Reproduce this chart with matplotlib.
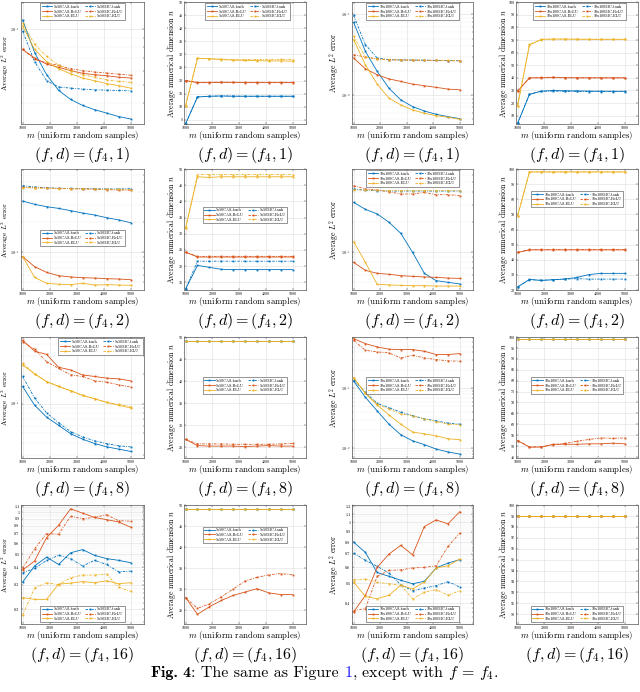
import matplotlib
matplotlib.use('Agg')
import matplotlib.pyplot as plt
from matplotlib.ticker import FixedLocator, FixedFormatter, NullFormatter, LogLocator, FuncFormatter
import numpy as np

plt.rcParams['font.family'] = 'serif'
plt.rcParams['font.serif'] = ['cmr10', 'DejaVu Serif']
plt.rcParams['mathtext.fontset'] = 'cm'
plt.rcParams['axes.unicode_minus'] = False
plt.rcParams['axes.formatter.use_mathtext'] = True

# ---------------- data ----------------
m = [1000, 1444, 1889, 2333, 2778, 3222, 3667, 4111, 4556, 5000]
series = ['CAS-tanh', 'MC-tanh', 'CAS-ReLU', 'MC-ReLU', 'CAS-ELU', 'MC-ELU']

# row 1: (f4, 1)
err_5x50_d1 = {
    'CAS-tanh': [0.112, 0.075, 0.057, 0.047, 0.042, 0.039, 0.037, 0.0355, 0.034, 0.033],
    'MC-tanh':  [0.0975, 0.067, 0.053, 0.049, 0.0483, 0.0477, 0.0473, 0.0471, 0.0469, 0.0467],
    'CAS-ReLU': [0.078, 0.070, 0.065, 0.0624, 0.060, 0.058, 0.057, 0.0563, 0.0553, 0.0547],
    'MC-ReLU':  [0.078, 0.069, 0.066, 0.064, 0.0614, 0.060, 0.0589, 0.0582, 0.0574, 0.0567],
    'CAS-ELU':  [0.104, 0.078, 0.067, 0.0614, 0.0577, 0.0547, 0.0529, 0.0511, 0.0498, 0.0483],
    'MC-ELU':   [0.108, 0.083, 0.0716, 0.064, 0.060, 0.057, 0.0553, 0.0536, 0.0525, 0.0519],
}
dim_5x50_d1 = {
    'CAS-tanh': [3.5, 13.7, 14.0, 14.1, 14.0, 14.0, 14.0, 14.0, 14.0, 14.0],
    'MC-tanh':  [3.5, 13.8, 14.0, 14.1, 14.1, 14.0, 14.0, 14.0, 14.0, 14.0],
    'CAS-ReLU': [20.0, 19.2, 19.2, 19.3, 19.3, 19.2, 19.2, 19.2, 19.2, 19.2],
    'MC-ReLU':  [20.0, 19.3, 19.3, 19.4, 19.3, 19.3, 19.3, 19.3, 19.3, 19.3],
    'CAS-ELU':  [10.4, 28.5, 28.3, 28.0, 27.8, 27.7, 27.6, 27.5, 27.5, 27.4],
    'MC-ELU':   [10.4, 28.5, 28.4, 28.2, 28.0, 28.0, 28.0, 28.0, 28.1, 28.0],
}
err_10x100_d1 = {
    'CAS-tanh': [0.080, 0.0348, 0.0196, 0.0121, 0.00866, 0.00715, 0.0063, 0.00573, 0.00536, 0.00506],
    'MC-tanh':  [0.0972, 0.0422, 0.0287, 0.0274, 0.0272, 0.0271, 0.0270, 0.0268, 0.0267, 0.0266],
    'CAS-ReLU': [0.0287, 0.0211, 0.0178, 0.0158, 0.0147, 0.0136, 0.0130, 0.0124, 0.0118, 0.01155],
    'MC-ReLU':  [0.0316, 0.0296, 0.0279, 0.0274, 0.0271, 0.0271, 0.0268, 0.0268, 0.0266, 0.0265],
    'CAS-ELU':  [0.0487, 0.0237, 0.0136, 0.0091, 0.0075, 0.0065, 0.0059, 0.00552, 0.00526, 0.00497],
    'MC-ELU':   [0.0536, 0.0296, 0.0279, 0.0274, 0.0273, 0.0271, 0.0270, 0.0269, 0.0268, 0.0267],
}
dim_10x100_d1 = {
    'CAS-tanh': [4, 27, 29.5, 30, 29.8, 29.7, 29.5, 29.5, 29.4, 29.4],
    'MC-tanh':  [4, 27, 29.4, 29.5, 29.3, 29.3, 29.2, 29.2, 29.2, 29.2],
    'CAS-ReLU': [29.5, 40, 40, 40.3, 40.1, 40, 40, 40, 40, 40],
    'MC-ReLU':  [29.5, 40, 40.3, 40.5, 40.2, 40.1, 40.1, 40, 40, 40],
    'CAS-ELU':  [18, 66, 70.5, 70.7, 70.7, 70.6, 70.5, 70.5, 70.5, 70.5],
    'MC-ELU':   [18, 66.5, 70.3, 70.6, 70.6, 70.5, 70.5, 70.4, 70.4, 70.4],
}
# row 2: (f4, 2)
err_5x50_d2 = {
    'CAS-tanh': [0.326, 0.302, 0.286, 0.275, 0.261, 0.247, 0.236, 0.222, 0.211, 0.198],
    'MC-tanh':  [0.464, 0.450, 0.443, 0.436, 0.436, 0.433, 0.433, 0.430, 0.430, 0.433],
    'CAS-ReLU': [0.0905, 0.0719, 0.063, 0.0584, 0.0567, 0.0558, 0.0553, 0.0545, 0.0541, 0.0533],
    'MC-ReLU':  [0.447, 0.443, 0.440, 0.436, 0.433, 0.430, 0.427, 0.423, 0.420, 0.418],
    'CAS-ELU':  [0.0905, 0.0562, 0.049, 0.048, 0.0475, 0.049, 0.0471, 0.0475, 0.0471, 0.0468],
    'MC-ELU':   [0.443, 0.440, 0.436, 0.433, 0.433, 0.430, 0.430, 0.427, 0.427, 0.423],
}
dim_5x50_d2 = {
    'CAS-tanh': [12.9, 20.2, 19.6, 19.0, 18.9, 18.9, 18.9, 18.9, 18.9, 18.9],
    'MC-tanh':  [12.9, 21.5, 21.5, 21.5, 21.5, 21.5, 21.5, 21.5, 21.5, 21.5],
    'CAS-ReLU': [24.3, 22.8, 22.8, 22.8, 22.8, 22.8, 22.8, 22.8, 22.8, 22.8],
    'MC-ReLU':  [24.3, 23.0, 23.0, 23.0, 23.0, 23.0, 23.0, 23.0, 23.0, 23.0],
    'CAS-ELU':  [31.7, 47.6, 47.4, 47.6, 47.6, 47.6, 47.6, 47.6, 47.6, 47.6],
    'MC-ELU':   [31.7, 48.3, 48.3, 48.3, 48.3, 48.3, 48.3, 48.3, 48.3, 48.3],
}
err_10x100_d2 = {
    'CAS-tanh': [0.316, 0.269, 0.242, 0.200, 0.155, 0.100, 0.0617, 0.0521, 0.0501, 0.0483],
    'MC-tanh':  [0.430, 0.417, 0.414, 0.410, 0.410, 0.410, 0.410, 0.410, 0.410, 0.410],
    'CAS-ReLU': [0.0794, 0.066, 0.0617, 0.0603, 0.0585, 0.0575, 0.0567, 0.0562, 0.0553, 0.0549],
    'MC-ReLU':  [0.464, 0.430, 0.420, 0.404, 0.383, 0.383, 0.397, 0.377, 0.377, 0.369],
    'CAS-ELU':  [0.128, 0.0794, 0.0479, 0.0472, 0.0468, 0.0464, 0.0464, 0.046, 0.046, 0.046],
    'MC-ELU':   [0.420, 0.420, 0.417, 0.414, 0.414, 0.414, 0.414, 0.414, 0.414, 0.414],
}
dim_10x100_d2 = {
    'CAS-tanh': [22, 27, 26.3, 26.8, 27.3, 28.3, 30.2, 31, 31, 31],
    'MC-tanh':  [22, 26.8, 26.5, 26.8, 27.2, 27.5, 27.2, 27.2, 27.2, 27.2],
    'CAS-ReLU': [44.8, 46.5, 46.5, 46.5, 46.5, 46.5, 46.5, 46.5, 46.5, 46.5],
    'MC-ReLU':  [44.8, 46.8, 46.8, 46.8, 46.8, 46.8, 46.8, 46.8, 46.8, 46.8],
    'CAS-ELU':  [69, 98, 98, 98, 98, 98, 98, 98, 98, 98],
    'MC-ELU':   [69, 98.2, 98.2, 98.2, 98.2, 98.2, 98.2, 98.2, 98.2, 98.2],
}
# row 3: (f4, 8)
err_5x50_d8 = {
    'CAS-tanh': [0.149, 0.0963, 0.073, 0.0603, 0.0497, 0.0437, 0.0395, 0.0366, 0.0347, 0.0329],
    'MC-tanh':  [0.188, 0.114, 0.0806, 0.064, 0.0521, 0.0461, 0.042, 0.0395, 0.0374, 0.0366],
    'CAS-ReLU': [0.436, 0.339, 0.314, 0.233, 0.219, 0.195, 0.188, 0.181, 0.178, 0.170],
    'MC-ReLU':  [0.420, 0.355, 0.265, 0.227, 0.195, 0.188, 0.170, 0.165, 0.155, 0.147],
    'CAS-ELU':  [0.245, 0.200, 0.167, 0.149, 0.135, 0.121, 0.112, 0.103, 0.0963, 0.0905],
    'MC-ELU':   [0.257, 0.200, 0.167, 0.149, 0.135, 0.121, 0.112, 0.103, 0.098, 0.0933],
}
dim_5x50_d8 = {
    'CAS-tanh': [49, 49, 49, 49, 49, 49, 49, 49, 49, 49],
    'MC-tanh':  [49, 49, 49, 49, 49, 49, 49, 49, 49, 49],
    'CAS-ReLU': [26.8, 25.4, 25.3, 25.3, 25.3, 25.2, 25.3, 25.4, 25.3, 25.3],
    'MC-ReLU':  [26.8, 25.8, 25.8, 25.8, 25.7, 25.7, 25.7, 25.7, 25.8, 25.9],
    'CAS-ELU':  [49, 49, 49, 49, 49, 49, 49, 49, 49, 49],
    'MC-ELU':   [49, 49, 49, 49, 49, 49, 49, 49, 49, 49],
}
err_10x100_d8 = {
    'CAS-tanh': [0.133, 0.0708, 0.0419, 0.0251, 0.0167, 0.0132, 0.0114, 0.0096, 0.0086, 0.0079],
    'MC-tanh':  [0.138, 0.0858, 0.0562, 0.0476, 0.0398, 0.035, 0.0308, 0.0286, 0.0261, 0.0251],
    'CAS-ReLU': [0.681, 0.562, 0.495, 0.453, 0.447, 0.447, 0.419, 0.369, 0.369, 0.383],
    'MC-ReLU':  [0.639, 0.435, 0.408, 0.393, 0.324, 0.359, 0.324, 0.304, 0.289, 0.285],
    'CAS-ELU':  [0.151, 0.0826, 0.0528, 0.0359, 0.0251, 0.0185, 0.0173, 0.016, 0.0143, 0.0138],
    'MC-ELU':   [0.151, 0.0826, 0.054, 0.0453, 0.0374, 0.0346, 0.0308, 0.0278, 0.0251, 0.0245],
}
dim_10x100_d8 = {
    'CAS-tanh': [99, 99, 99, 99, 99, 99, 99, 99, 99, 99],
    'MC-tanh':  [99, 99, 99, 99, 99, 99, 99, 99, 99, 99],
    'CAS-ReLU': [52.5, 49.5, 49.5, 50.8, 50.8, 50.8, 51, 51, 51.3, 51],
    'MC-ReLU':  [52.5, 49.5, 49.7, 50.6, 51.2, 52.2, 53, 53.7, 53.5, 53.7],
    'CAS-ELU':  [99, 99, 99, 99, 99, 99, 99, 99, 99, 99],
    'MC-ELU':   [99, 99, 99, 99, 99, 99, 99, 99, 99, 99],
}
# row 4: (f4, 16)
err_5x50_d16 = {
    'CAS-tanh': [0.313, 0.41, 0.475, 0.42, 0.51, 0.538, 0.489, 0.463, 0.45, 0.433],
    'MC-tanh':  [0.366, 0.393, 0.45, 0.489, 0.463, 0.41, 0.45, 0.42, 0.372, 0.376],
    'CAS-ReLU': [0.383, 0.445, 0.657, 0.807, 1.06, 0.987, 0.92, 0.885, 0.853, 0.782],
    'MC-ReLU':  [0.393, 0.545, 0.702, 0.695, 0.935, 0.9, 0.92, 0.96, 0.871, 0.863],
    'CAS-ELU':  [0.242, 0.235, 0.235, 0.303, 0.308, 0.316, 0.31, 0.32, 0.305, 0.31],
    'MC-ELU':   [0.181, 0.284, 0.31, 0.3, 0.337, 0.352, 0.352, 0.358, 0.288, 0.269],
}
dim_5x50_d16 = {
    'CAS-tanh': [49, 49, 49, 49, 49, 49, 49, 49, 49, 49],
    'MC-tanh':  [49, 49, 49, 49, 49, 49, 49, 49, 49, 49],
    'CAS-ReLU': [28.0, 24.0, 25.8, 27.3, 28.5, 29.3, 30.1, 29.1, 28.7, 28.7],
    'MC-ReLU':  [28.0, 25.4, 26.5, 28.2, 30.0, 31.9, 32.8, 33.4, 33.7, 33.4],
    'CAS-ELU':  [49, 49, 49, 49, 49, 49, 49, 49, 49, 49],
    'MC-ELU':   [49, 49, 49, 49, 49, 49, 49, 49, 49, 49],
}
err_10x100_d16 = {
    'CAS-tanh': [0.80, 0.711, 0.566, 0.542, 0.518, 0.498, 0.512, 0.596, 0.63, 0.655],
    'MC-tanh':  [0.706, 0.65, 0.607, 0.563, 0.492, 0.46, 0.474, 0.487, 0.51, 0.48],
    'CAS-ReLU': [0.361, 0.436, 0.60, 0.698, 0.771, 0.692, 0.955, 1.03, 0.984, 1.13],
    'MC-ReLU':  [0.367, 0.375, 0.542, 0.58, 0.583, 0.596, 0.60, 0.611, 0.762, 0.885],
    'CAS-ELU':  [0.508, 0.431, 0.42, 0.437, 0.49, 0.469, 0.508, 0.596, 0.611, 0.659],
    'MC-ELU':   [0.521, 0.525, 0.506, 0.498, 0.489, 0.42, 0.452, 0.466, 0.437, 0.46],
}
dim_10x100_d16 = {
    'CAS-tanh': [99, 99, 99, 99, 99, 99, 99, 99, 99, 99],
    'MC-tanh':  [99, 99, 99, 99, 99, 99, 99, 99, 99, 99],
    'CAS-ReLU': [99, 99, 99, 99, 99, 99, 99, 99, 99, 99],
    'MC-ReLU':  [99, 99, 99, 99, 99, 99, 99, 99, 99, 99],
    'CAS-ELU':  [99, 99, 99, 99, 99, 99, 99, 99, 99, 99],
    'MC-ELU':   [99, 99, 99, 99, 99, 99, 99, 99, 99, 99],
}

x_ticks = [1000, 2000, 3000, 4000, 5000]
d_values = [1, 2, 8, 16]
nets = ['5x50', '5x50', '10x100', '10x100']

# ---------------- style / layout ----------------
colors = {'tanh': '#0072BD', 'ReLU': '#D95319', 'ELU': '#EDB120'}
W, H = 640, 692
col_x = [(21, 144), (184, 306), (352, 473), (516, 638)]
row_y = [(2, 124), (169, 290), (337, 458), (505, 624)]
ylabel_x = [5.3, 172, 334.5, 503]
ylabel_fs = [5.2, 5.6, 5.6, 5.6]

grid_data = [
    [err_5x50_d1, dim_5x50_d1, err_10x100_d1, dim_10x100_d1],
    [err_5x50_d2, dim_5x50_d2, err_10x100_d2, dim_10x100_d2],
    [err_5x50_d8, dim_5x50_d8, err_10x100_d8, dim_10x100_d8],
    [err_5x50_d16, dim_5x50_d16, err_10x100_d16, dim_10x100_d16],
]
ylims = [
    [(0.031, 0.14), (3.4, 50), (0.00434, 0.143), (3.5, 100)],
    [(0.042, 0.681), (12.6, 50), (0.042, 0.681), (20.5, 100)],
    [(0.0282, 0.471), (22.6, 50), (0.0068, 0.726), (44.5, 100)],
    [(0.156, 1.13), (21.7, 50), (0.315, 1.22), (89.1, 100)],
]
lin_ticks = {
    (0, 1): list(range(5, 51, 5)), (0, 3): list(range(10, 101, 10)),
    (1, 1): list(range(15, 51, 5)), (1, 3): list(range(20, 101, 10)),
    (2, 1): list(range(25, 51, 5)), (2, 3): list(range(45, 101, 5)),
    (3, 1): list(range(25, 51, 5)), (3, 3): list(range(90, 101, 1)),
}
r4_log_ticks = {
    0: ([0.2, 0.3, 0.4, 0.5, 0.6, 0.7, 0.8, 0.9, 1.0, 1.1],
        ['0.2', '0.3', '0.4', '0.5', '0.6', '0.7', '0.8', '0.9', '1', '1.1']),
    2: ([0.4, 0.5, 0.6, 0.7, 0.8, 0.9, 1.0, 1.1, 1.2],
        ['0.4', '0.5', '0.6', '0.7', '0.8', '0.9', '1', '1.1', '1.2']),
}
legend_pos = [
    [('upper center', (0.5, 0.995)), ('upper center', (0.52, 0.995)), ('upper center', (0.5, 0.995)), ('upper center', (0.52, 0.995))],
    [('center', (0.5, 0.43)), ('center', (0.5, 0.62)), ('upper center', (0.5, 0.995)), ('center', (0.5, 0.75))],
    [('upper right', (0.995, 0.995)), ('center', (0.5, 0.6)), ('center', (0.5, 0.6)), ('center', (0.5, 0.6))],
    [('lower center', (0.5, 0.01)), ('center', (0.5, 0.75)), ('lower center', (0.5, 0.01)), ('lower center', (0.5, 0.01))],
]

fig = plt.figure(figsize=(W / 100, H / 100), dpi=100)
fig.patch.set_facecolor('white')

def sci_fmt(v, pos):
    e = int(np.round(np.log10(v)))
    return r'$10^{%d}$' % e

for r in range(4):
    for c in range(4):
        x0, x1 = col_x[c]
        y0, y1 = row_y[r]
        ax = fig.add_axes([x0 / W, 1 - y1 / H, (x1 - x0) / W, (y1 - y0) / H])
        data = grid_data[r][c]
        net = nets[c]
        is_err = (c % 2 == 0)
        handles = {}
        for s in series:
            method, act = s.split('-')
            ls = '-' if method == 'CAS' else (0, (3, 1.5, 1, 1.5))
            h, = ax.plot(m, data[s], color=colors[act], linestyle=ls, lw=0.6,
                         marker='s', ms=1.3, mew=0, label=net + s)
            handles[s] = h
        ax.set_xlim(940, 5500)
        ax.set_ylim(*ylims[r][c])
        ax.set_xticks(x_ticks)
        ax.set_xticklabels([str(v) for v in x_ticks])
        if is_err:
            ax.set_yscale('log')
            if r < 3:
                ax.yaxis.set_major_locator(LogLocator(base=10, numticks=10))
                ax.yaxis.set_major_formatter(FuncFormatter(sci_fmt))
                ax.yaxis.set_minor_locator(LogLocator(base=10, subs=np.arange(2, 10), numticks=20))
                ax.yaxis.set_minor_formatter(NullFormatter())
            else:
                tv, tl = r4_log_ticks[c]
                ax.yaxis.set_major_locator(FixedLocator(tv))
                ax.yaxis.set_major_formatter(FixedFormatter(tl))
                ax.yaxis.set_minor_locator(FixedLocator(np.arange(0.1, 1.3, 0.02)))
                ax.yaxis.set_minor_formatter(NullFormatter())
        else:
            ax.set_yticks(lin_ticks[(r, c)])
            ax.set_yticklabels([str(v) for v in lin_ticks[(r, c)]])
        ax.set_axisbelow(True)
        ax.grid(True, which='major', color='#dddddd', lw=0.4)
        if is_err:
            ax.grid(True, which='minor', color='#eeeeee', lw=0.3)
        ax.tick_params(which='both', direction='in', top=True, right=True,
                       width=0.35, color='#444444', labelsize=3.0, pad=1.0)
        ax.tick_params(which='major', length=1.6)
        ax.tick_params(which='minor', length=0.8)
        for sp in ax.spines.values():
            sp.set_linewidth(0.5)
            sp.set_color('#555555')
        order = ['CAS-tanh', 'CAS-ReLU', 'CAS-ELU', 'MC-tanh', 'MC-ReLU', 'MC-ELU']
        loc, anchor = legend_pos[r][c]
        leg = ax.legend([handles[s] for s in order], [net + s for s in order],
                        loc=loc, bbox_to_anchor=anchor, ncol=2, fontsize=2.9,
                        handlelength=2.6, handletextpad=0.4, columnspacing=0.9,
                        labelspacing=0.15, borderpad=0.3, borderaxespad=0.2,
                        fancybox=False, framealpha=1, edgecolor='#444444')
        leg.get_frame().set_linewidth(0.4)
        ax.text(0.5, -11.5 / (y1 - y0), r'$m$ (uniform random samples)', transform=ax.transAxes,
                ha='center', va='center', fontsize=6.3)
        ylab = r'Average $L^2$ error' if is_err else r'Average numerical dimension $n$'
        fig.text(ylabel_x[c] / W, 1 - (y0 + y1) / 2 / H, ylab, rotation=90,
                 ha='center', va='center', fontsize=ylabel_fs[c])
        fig.text((x0 + x1) / 2 / W, 1 - (y1 + 31) / H, r'$(f,d) = (f_4,%d)$' % d_values[r],
                 ha='center', va='center', fontsize=11.5)

# caption
renderer = fig.canvas.get_renderer()
pieces = [('Fig. 4', 'cmb10', 'black'),
          (': The same as Figure ', None, 'black'),
          ('1', None, '#1a1aff'),
          (r', except with $f$ = $f_4$.', None, 'black')]
texts = []
for txt, fam, col in pieces:
    kw = {'fontsize': 11.5, 'color': col, 'va': 'baseline', 'ha': 'left'}
    if fam:
        kw['family'] = fam
    texts.append(fig.text(0, 1 - 677 / H, txt, **kw))
widths = [t.get_window_extent(renderer).width for t in texts]
total = sum(widths)
xs = (W - total) / 2 + 5
for t, w in zip(texts, widths):
    t.set_x(xs / W)
    xs += w

fig.savefig('out.png', dpi=100, facecolor='white')
